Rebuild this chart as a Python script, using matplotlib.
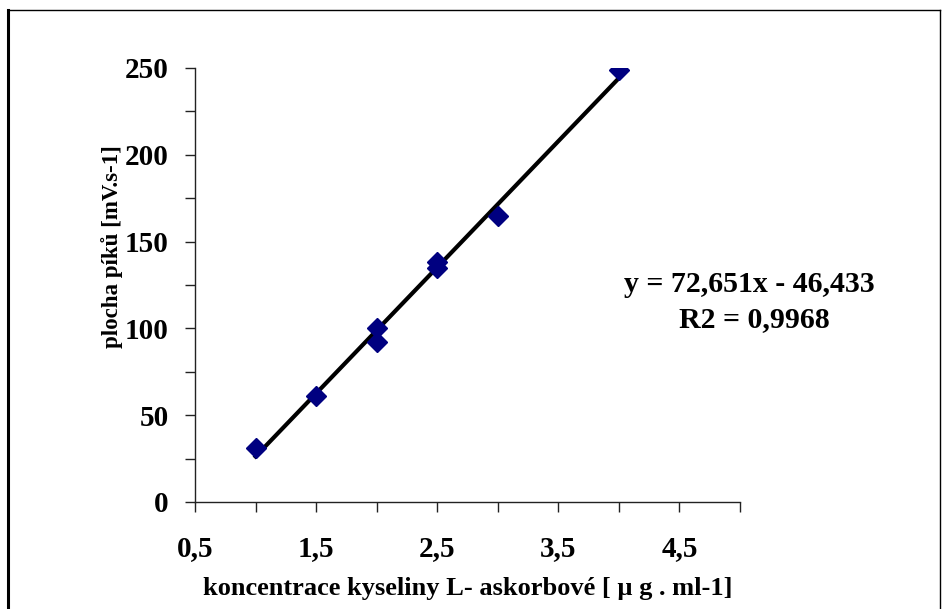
import matplotlib.pyplot as plt
from matplotlib.ticker import MultipleLocator, FixedLocator
import numpy as np

# data
konc = [1.0, 1.5, 2.0, 2.0, 2.5, 2.5, 3.0, 4.0]
plocha = [31, 61, 100, 92, 138, 135, 165, 248.6]
slope = 72.651
intercept = -46.433
eq_text = "y = 72,651x - 46,433"
r2_text = "R2 = 0,9968"
xlabels = ["0,5", "1,5", "2,5", "3,5", "4,5"]

plt.rcParams['font.family'] = 'Liberation Serif'
plt.rcParams['font.weight'] = 'bold'

W, H = 951, 609
fig = plt.figure(figsize=(W / 100, H / 100), dpi=100)

# border round the chart
fig.add_artist(plt.Line2D([8 / W, 8 / W], [0, 1 - 10 / H], color='black', lw=2.2))
fig.add_artist(plt.Line2D([8 / W, 940 / W], [1 - 10 / H, 1 - 10 / H], color='black', lw=1))
fig.add_artist(plt.Line2D([940 / W, 940 / W], [0, 1 - 10 / H], color='black', lw=1))

ax = fig.add_axes([195 / W, 107 / H, 545 / W, 434 / H])

xfit = np.array([min(konc), max(konc)])
ax.plot(xfit, slope * xfit + intercept, color='black', lw=3, zorder=2)
ax.plot(konc, plocha, linestyle='none', marker='D', ms=10, color='#000080', zorder=3)

ax.set_xlim(0.5, 5.0)
ax.set_ylim(0, 250)
ax.xaxis.set_major_locator(FixedLocator([0.5, 1.5, 2.5, 3.5, 4.5]))
ax.set_xticklabels(xlabels)
ax.xaxis.set_minor_locator(FixedLocator([1, 2, 3, 4, 5]))
ax.yaxis.set_major_locator(MultipleLocator(50))
ax.yaxis.set_minor_locator(MultipleLocator(25))

for s in ['top', 'right']:
    ax.spines[s].set_visible(False)
for s in ['left', 'bottom']:
    ax.spines[s].set_color('#222222')
    ax.spines[s].set_linewidth(1)

ax.tick_params(axis='both', which='both', direction='out', length=7, width=1, color='#222222')
ax.tick_params(axis='x', which='major', labelsize=21, pad=17)
ax.tick_params(axis='y', which='major', labelsize=21, pad=12)
for lab in ax.get_xticklabels() + ax.get_yticklabels():
    lab.set_fontweight('bold')

fig.text(468 / W, 1 - 595 / H, "koncentrace kyseliny L- askorbové [ µ g . ml-1]",
         ha='center', va='baseline', fontsize=19, fontweight='bold')
fig.text(112 / W, 1 - 247 / H, "plocha píků [mV.s-1]", rotation=90,
         ha='center', va='center', fontsize=16.5, fontweight='bold')

fig.text(749 / W, 1 - 292 / H, eq_text, ha='center', va='baseline', fontsize=21.5, fontweight='bold')
fig.text(754 / W, 1 - 327 / H, r2_text, ha='center', va='baseline', fontsize=21.5, fontweight='bold')

fig.savefig('out.png', dpi=100)
